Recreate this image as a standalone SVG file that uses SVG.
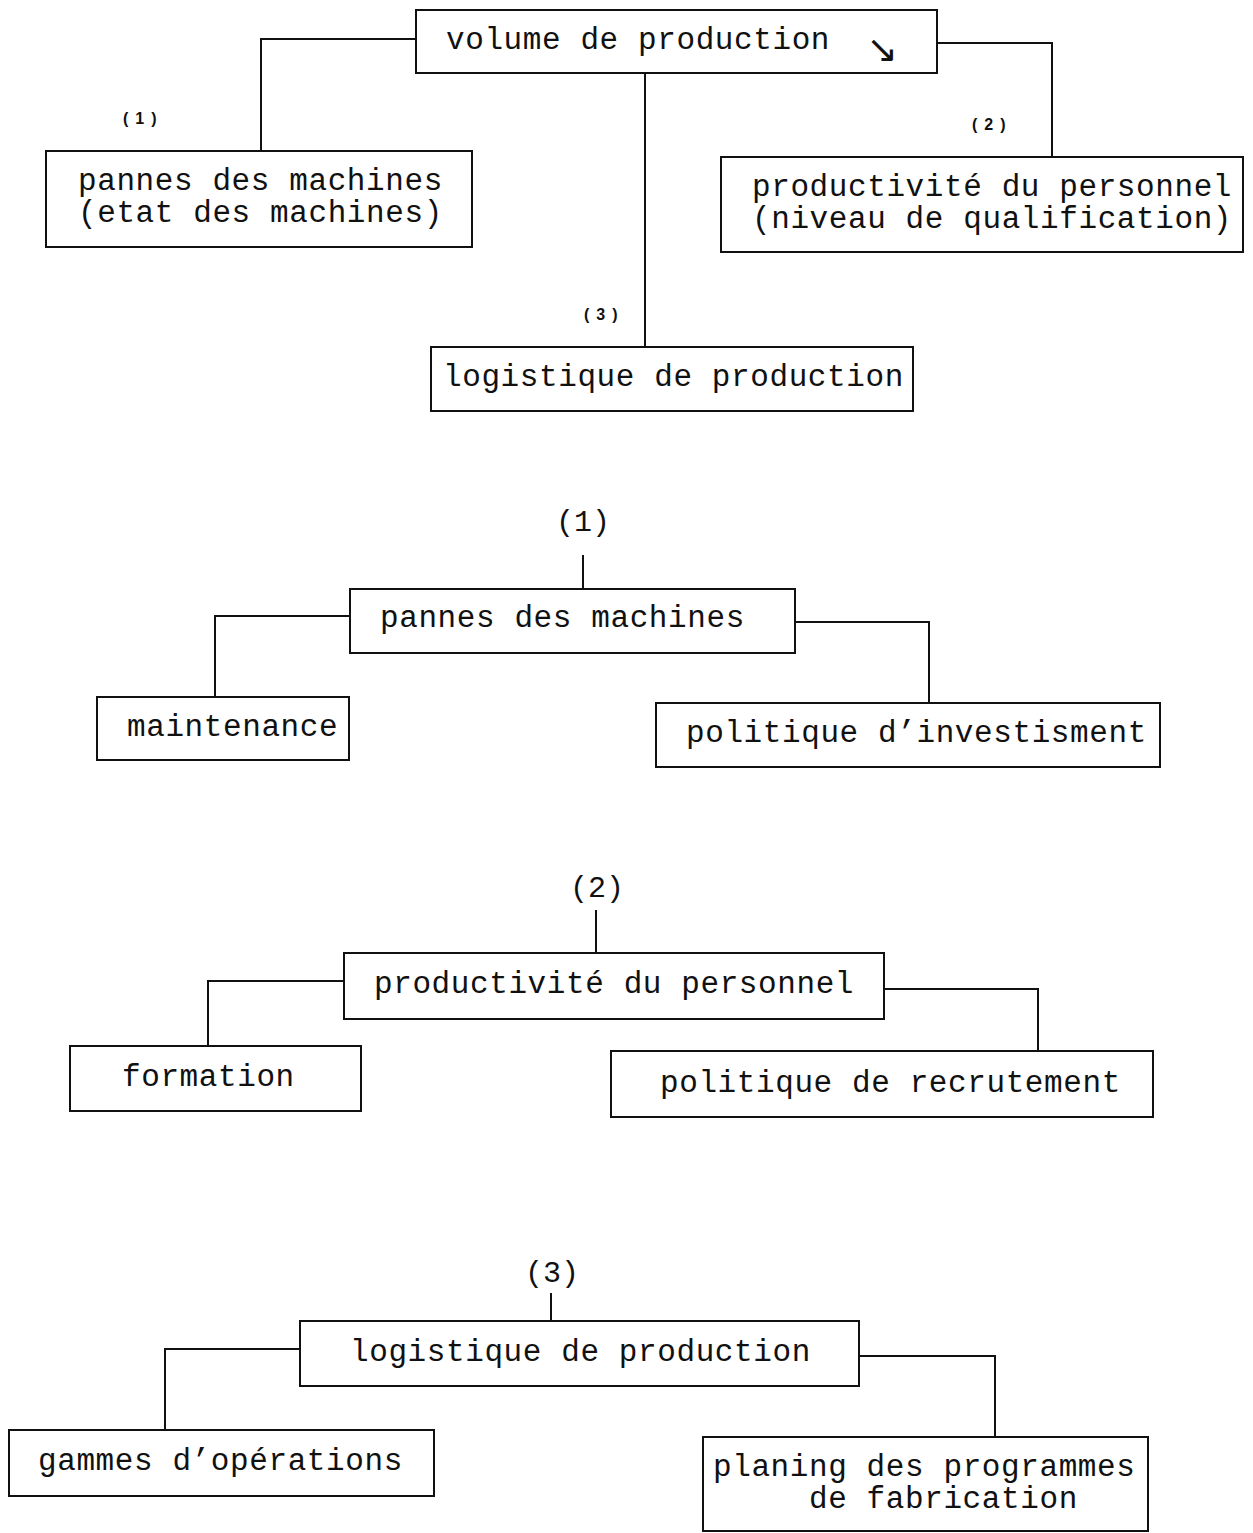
<svg xmlns="http://www.w3.org/2000/svg" width="1253" height="1533" viewBox="0 0 1253 1533">
<style>
.box{fill:#fff;stroke:#111;stroke-width:2}
.con{fill:none;stroke:#111;stroke-width:2}
.t{font-family:"Liberation Mono","DejaVu Sans Mono",monospace;font-size:31px;letter-spacing:0.6px;fill:#111}
.s{font-family:"Liberation Sans",Arial,sans-serif;font-size:16px;font-weight:bold;letter-spacing:7px;fill:#111}
.n{font-family:"Liberation Mono","DejaVu Sans Mono",monospace;font-size:30px;fill:#111}
</style>
<rect width="1253" height="1533" fill="#fff"/>
<g id="connectors">
<path class="con" d="M416 39 H261 V151"/>
<path class="con" d="M937 43 H1052 V157"/>
<path class="con" d="M645 73 V347"/>
<path class="con" d="M583 555 V589"/>
<path class="con" d="M350 616 H215 V697"/>
<path class="con" d="M795 622 H929 V703"/>
<path class="con" d="M596 910 V953"/>
<path class="con" d="M344 981 H208 V1046"/>
<path class="con" d="M884 989 H1038 V1051"/>
<path class="con" d="M551 1293 V1321"/>
<path class="con" d="M300 1349 H165 V1430"/>
<path class="con" d="M859 1356 H995 V1437"/>
</g>
<g id="labels">
<text class="s" x="123" y="124">(1)</text>
<text class="s" x="972" y="130">(2)</text>
<text class="s" x="584" y="320">(3)</text>
<text class="n" x="583" y="531" text-anchor="middle">(1)</text>
<text class="n" x="597" y="897" text-anchor="middle">(2)</text>
<text class="n" x="552" y="1282" text-anchor="middle">(3)</text>
</g>
<g id="n-volume">
<rect class="box" x="416" y="10" width="521" height="63"/>
<text class="t" x="446" y="49">volume de production</text>
<text x="866" y="62" style="font-family:'DejaVu Sans',sans-serif;font-size:38px;fill:#111">↘</text>
</g>
<g id="n-pannes-top">
<rect class="box" x="46" y="151" width="426" height="96"/>
<text class="t" x="78" y="190">pannes des machines</text>
<text class="t" x="78" y="222">(etat des machines)</text>
</g>
<g id="n-productivite-top">
<rect class="box" x="721" y="157" width="522" height="95"/>
<text class="t" x="752" y="196">productivité du personnel</text>
<text class="t" x="752" y="228">(niveau de qualification)</text>
</g>
<g id="n-logistique-top">
<rect class="box" x="431" y="347" width="482" height="64"/>
<text class="t" x="443" y="386">logistique de production</text>
</g>
<g id="n-pannes">
<rect class="box" x="350" y="589" width="445" height="64"/>
<text class="t" x="380" y="627">pannes des machines</text>
</g>
<g id="n-maintenance">
<rect class="box" x="97" y="697" width="252" height="63"/>
<text class="t" x="127" y="736">maintenance</text>
</g>
<g id="n-investisment">
<rect class="box" x="656" y="703" width="504" height="64"/>
<text class="t" x="686" y="742">politique d’investisment</text>
</g>
<g id="n-productivite">
<rect class="box" x="344" y="953" width="540" height="66"/>
<text class="t" x="374" y="993">productivité du personnel</text>
</g>
<g id="n-formation">
<rect class="box" x="70" y="1046" width="291" height="65"/>
<text class="t" x="122" y="1086">formation</text>
</g>
<g id="n-recrutement">
<rect class="box" x="611" y="1051" width="542" height="66"/>
<text class="t" x="660" y="1092">politique de recrutement</text>
</g>
<g id="n-logistique">
<rect class="box" x="300" y="1321" width="559" height="65"/>
<text class="t" x="350" y="1361">logistique de production</text>
</g>
<g id="n-gammes">
<rect class="box" x="9" y="1430" width="425" height="66"/>
<text class="t" x="38" y="1470">gammes d’opérations</text>
</g>
<g id="n-planing">
<rect class="box" x="703" y="1437" width="445" height="94"/>
<text class="t" x="713" y="1476">planing des programmes</text>
<text class="t" x="809" y="1508">de fabrication</text>
</g>
</svg>
